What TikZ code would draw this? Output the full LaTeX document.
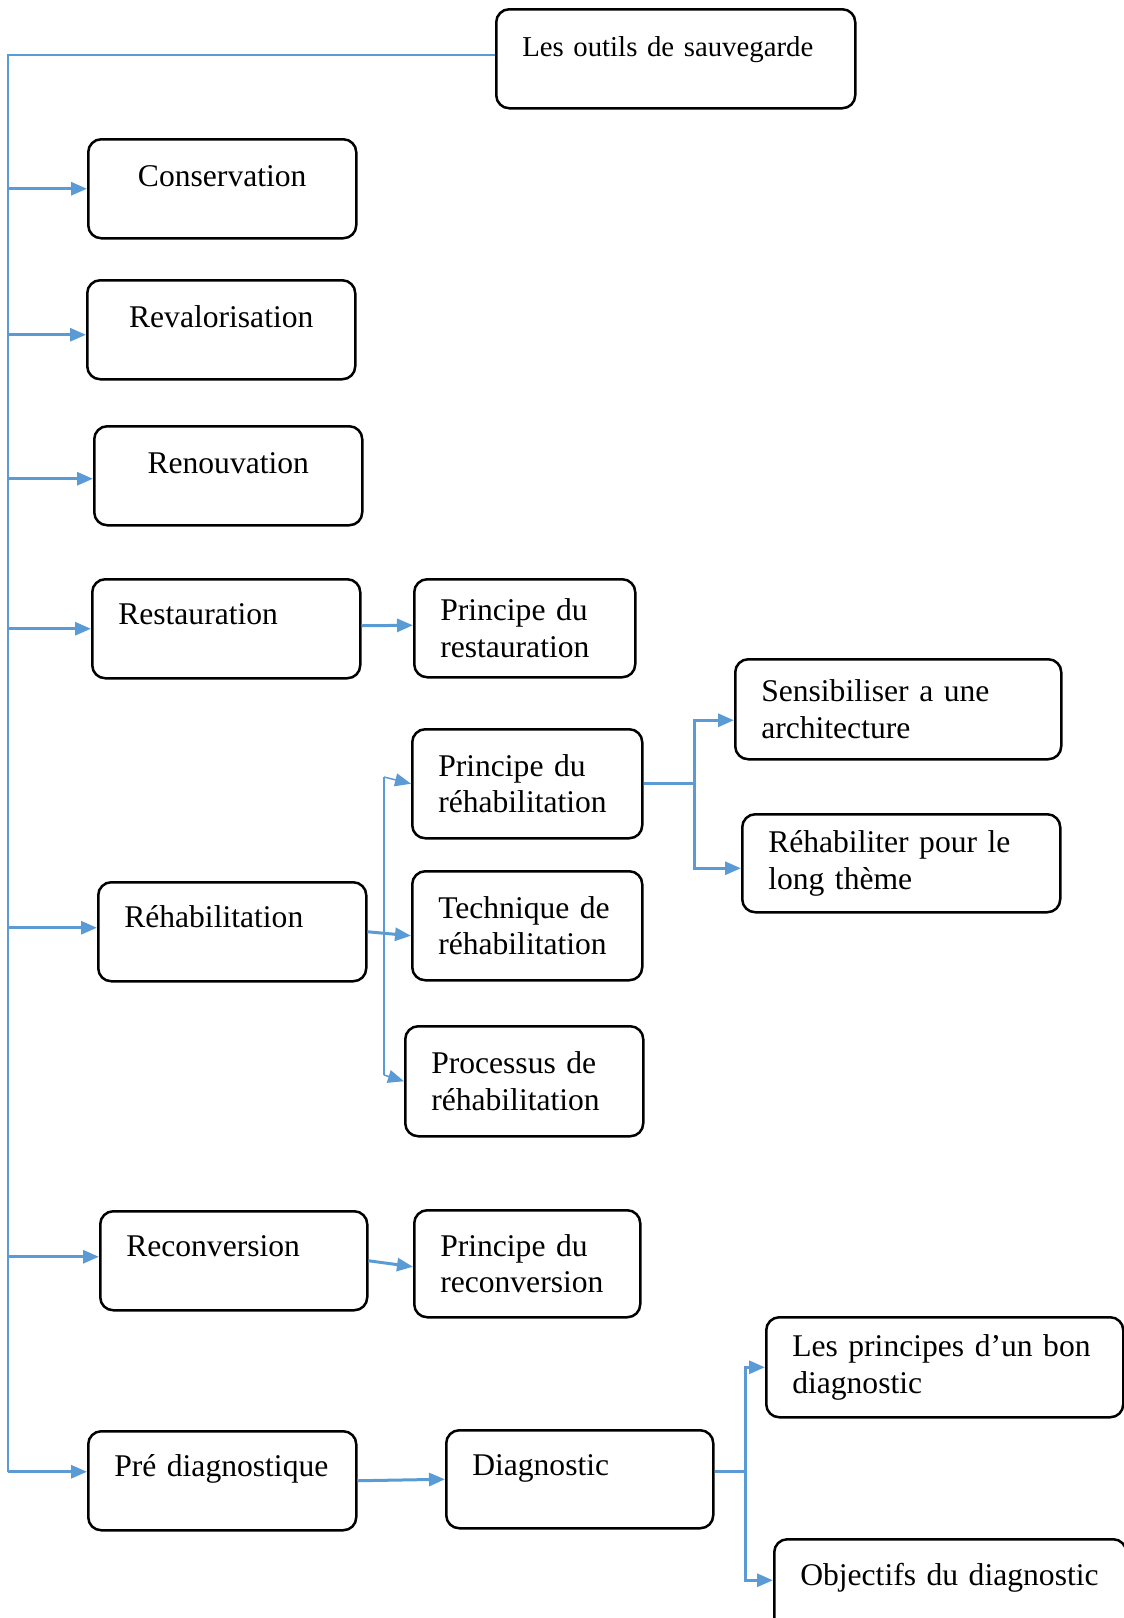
\documentclass[tikz,border=0pt]{standalone}
\usepackage{fontspec}
\setmainfont{Liberation Serif}
\usetikzlibrary{arrows.meta}
\definecolor{wordblue}{HTML}{5B9BD5}

\begin{document}
\begin{tikzpicture}[x=0.5pt,y=-0.5pt]
\tikzstyle{box}=[draw=black, line width=1.25pt, rounded corners=6.5pt, anchor=north west, inner xsep=13pt, inner ysep=0pt, align=left, font=\fontsize{15.8}{18.2}\selectfont]
\tikzstyle{oneline}=[text height=11pt, text depth=15pt]
\tikzstyle{midline}=[align=center, text height=11pt, text depth=13pt]
\tikzstyle{rail}=[draw=wordblue, line width=0.75pt]
\tikzstyle{feed}=[draw=wordblue, line width=1.5pt, -{Triangle[length=8pt,width=6.5pt,fill=wordblue]}]
\tikzstyle{thinfeed}=[feed, line width=0.75pt]
\useasboundingbox (0,0) rectangle (1124,1618);
\node [box, text width=153.5pt, minimum height=49.5pt, text height=11pt, text depth=13.5pt, font=\fontsize{14.4}{17}\selectfont] (outils) at (495,8) {Les outils de sauvegarde};
\node [box, midline, text width=108pt, minimum height=49.5pt] (cons) at (87,138) {Conservation};
\node [box, midline, text width=108pt, minimum height=49.5pt] (reval) at (86,279) {Revalorisation};
\node [box, midline, text width=108pt, minimum height=49.5pt] (renouv) at (93,425) {Renouvation};
\node [box, oneline, text width=108pt, minimum height=49.5pt] (restau) at (91,578) {Restauration};
\node [box, text width=84.5pt, minimum height=49pt] (prest) at (413,578) {Principe du\\restauration};
\node [box, text width=137pt, minimum height=50pt] (sensib) at (734,658) {Sensibiliser a une\\architecture};
\node [box, text width=89pt, minimum height=54.5pt] (prehab) at (411,728) {Principe du\\réhabilitation};
\node [box, text width=133pt, minimum height=49pt] (rehabl) at (741,813) {Réhabiliter pour le\\long thème};
\node [box, oneline, text width=108pt, minimum height=49.5pt] (rehab) at (97,881) {Réhabilitation};
\node [box, text width=89pt, minimum height=54.5pt] (tech) at (411,870) {Technique de\\réhabilitation};
\node [box, text width=93pt, minimum height=55pt] (proc) at (404,1025) {Processus de\\réhabilitation};
\node [box, oneline, text width=107.5pt, minimum height=49.5pt] (recon) at (99,1210) {Reconversion};
\node [box, text width=87pt, minimum height=53.5pt] (precon) at (413,1209) {Principe du\\reconversion};
\node [box, text width=152.5pt, minimum height=50pt] (lesprinc) at (765,1316) {Les principes d’un bon\\diagnostic};
\node [box, oneline, text width=108pt, minimum height=49.5pt] (prediag) at (87,1430) {Pré diagnostique};
\node [box, oneline, text width=107.5pt, minimum height=49pt] (diag) at (445,1429) {Diagnostic};
\node [box, oneline, text width=150pt, minimum height=50pt] (objec) at (773,1538) {Objectifs du diagnostic};
\coordinate (trunk) at (8,0);
\coordinate (rtop) at (384,777);
\coordinate (rbot) at (384,1075);
\draw [rail] ([yshift=2pt]outils.west) -| ([yshift=4.5pt]prediag.west -| trunk);
\draw [feed] (cons.west -| trunk) -- (cons.west);
\draw [feed] ([yshift=-2.5pt]reval.west -| trunk) -- ([yshift=-2.5pt]reval.west);
\draw [feed] ([yshift=-1.5pt]renouv.west -| trunk) -- ([yshift=-1.5pt]renouv.west);
\draw [feed] (restau.west -| trunk) -- (restau.west);
\draw [feed] ([yshift=2pt]rehab.west -| trunk) -- ([yshift=2pt]rehab.west);
\draw [feed] ([yshift=2pt]recon.west -| trunk) -- ([yshift=2pt]recon.west);
\draw [feed] ([yshift=4.5pt]prediag.west -| trunk) -- ([yshift=4.5pt]prediag.west);
\draw [feed] ([yshift=1.5pt]restau.east) -- ([yshift=1.5pt]prest.west);
\draw [rail] (rtop) -- (rbot);
\draw [thinfeed] (rtop) -- (prehab.west);
\draw [feed] (rehab.east) -- ([yshift=-5pt]tech.west);
\draw [thinfeed] (rbot) -- (proc.west);
\draw [feed] (prehab.east) -- ++(51,0) coordinate (pj) |- ([yshift=-5.5pt]sensib.west);
\draw [feed] (pj) |- ([yshift=-2.5pt]rehabl.west);
\draw [feed] (recon.east) -- ([yshift=-1.5pt]precon.west);
\draw [feed] (prediag.east) -- (diag.west);
\draw [feed] ([yshift=4pt]diag.east) -- ++(31,0) coordinate (dj) |- (lesprinc.west);
\draw [feed] (dj) |- ([yshift=4.5pt]objec.west);
\end{tikzpicture}
\end{document}
